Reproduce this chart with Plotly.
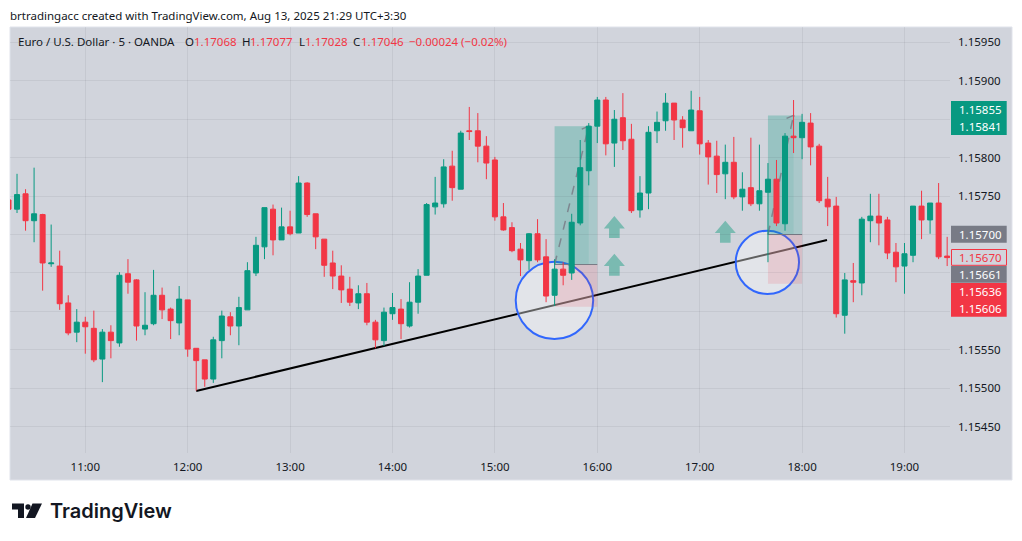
import pandas as pd
import plotly.graph_objects as go

# the page body has an 8px margin, so the figure is 8px smaller than the window
W, H = 1014, 533
OFFSET = 8
LEFT, RIGHT, TOP, BOTTOM = 10, 950, 27, 453
BG = "#D1D4DC"
UP = "#089981"
DOWN = "#F23645"
GREY = "#787B86"
FONT = "Noto Sans"

# candles, 5 min apart from 10:15
open_ = [1.15745, 1.15733, 1.15753, 1.15718, 1.15726, 1.15662, 1.15659, 1.15611, 1.15573, 1.15586,
         1.15578, 1.15538, 1.15573, 1.15559, 1.15649, 1.15641, 1.15577, 1.15584, 1.15621, 1.15603,
         1.15585, 1.15615, 1.15552, 1.15537, 1.15512, 1.15562, 1.15593, 1.15581, 1.15602, 1.15650,
         1.15684, 1.15733, 1.15693, 1.15710, 1.15702, 1.15767, 1.15727, 1.15694, 1.15663, 1.15646,
         1.15629, 1.15611, 1.15623, 1.15586, 1.15562, 1.15597, 1.15603, 1.15581, 1.15612, 1.15647,
         1.15736, 1.15740, 1.15789, 1.15759, 1.15835, 1.15835, 1.15815, 1.15797, 1.15723, 1.15709,
         1.15681, 1.15666, 1.15701, 1.15671, 1.15621, 1.15655, 1.15650, 1.15715, 1.15783, 1.15841,
         1.15875, 1.15819, 1.15852, 1.15824, 1.15732, 1.15754, 1.15835, 1.15848, 1.15871, 1.15849,
         1.15835, 1.15861, 1.15819, 1.15802, 1.15779, 1.15794, 1.15749, 1.15761, 1.15740, 1.15755,
         1.15772, 1.15714, 1.15828, 1.15826, 1.15845, 1.15815, 1.15746, 1.15737, 1.15595, 1.15640,
         1.15637, 1.15718, 1.15724, 1.15719, 1.15677, 1.15659, 1.15673, 1.15737, 1.15719, 1.15741,
         1.15672]
high = [1.15745, 1.15779, 1.15759, 1.15787, 1.15727, 1.15713, 1.15679, 1.15621, 1.15603, 1.15593,
        1.15601, 1.15577, 1.15582, 1.15651, 1.15668, 1.15642, 1.15625, 1.15654, 1.15631, 1.15605,
        1.15633, 1.15615, 1.15552, 1.15537, 1.15567, 1.15601, 1.15599, 1.15619, 1.15664, 1.15697,
        1.15735, 1.15739, 1.15735, 1.15731, 1.15776, 1.15768, 1.15727, 1.15694, 1.15679, 1.15660,
        1.15645, 1.15634, 1.15637, 1.15589, 1.15605, 1.15624, 1.15616, 1.15638, 1.15655, 1.15741,
        1.15775, 1.15798, 1.15809, 1.15835, 1.15866, 1.15858, 1.15828, 1.15801, 1.15741, 1.15716,
        1.15689, 1.15702, 1.15720, 1.15694, 1.15668, 1.15664, 1.15727, 1.15823, 1.15845, 1.15879,
        1.15879, 1.15862, 1.15884, 1.15844, 1.15776, 1.15841, 1.15860, 1.15884, 1.15871, 1.15854,
        1.15887, 1.15879, 1.15823, 1.15822, 1.15817, 1.15827, 1.15781, 1.15826, 1.15817, 1.15793,
        1.15797, 1.15832, 1.15875, 1.15857, 1.15858, 1.15818, 1.15775, 1.15749, 1.15650, 1.15663,
        1.15723, 1.15753, 1.15753, 1.15723, 1.15689, 1.15689, 1.15737, 1.15757, 1.15741, 1.15767,
        1.15697]
low = [1.15733, 1.15728, 1.15705, 1.15690, 1.15627, 1.15658, 1.15602, 1.15569, 1.15560, 1.15545,
       1.15534, 1.15508, 1.15539, 1.15554, 1.15623, 1.15562, 1.15569, 1.15582, 1.15590, 1.15564,
       1.15569, 1.15541, 1.15497, 1.15502, 1.15507, 1.15539, 1.15569, 1.15556, 1.15602, 1.15646,
       1.15668, 1.15673, 1.15693, 1.15699, 1.15702, 1.15723, 1.15681, 1.15645, 1.15629, 1.15611,
       1.15607, 1.15603, 1.15582, 1.15552, 1.15555, 1.15589, 1.15564, 1.15579, 1.15597, 1.15647,
       1.15726, 1.15735, 1.15744, 1.15759, 1.15823, 1.15794, 1.15772, 1.15718, 1.15705, 1.15677,
       1.15646, 1.15654, 1.15664, 1.15612, 1.15607, 1.15634, 1.15641, 1.15712, 1.15764, 1.15819,
       1.15803, 1.15788, 1.15810, 1.15728, 1.15722, 1.15733, 1.15819, 1.15835, 1.15823, 1.15813,
       1.15835, 1.15804, 1.15765, 1.15754, 1.15746, 1.15746, 1.15731, 1.15737, 1.15731, 1.15664,
       1.15711, 1.15705, 1.15806, 1.15798, 1.15790, 1.15741, 1.15711, 1.15592, 1.15571, 1.15612,
       1.15621, 1.15690, 1.15686, 1.15668, 1.15638, 1.15623, 1.15664, 1.15694, 1.15701, 1.15668,
       1.15659]
close = [1.15733, 1.15752, 1.15718, 1.15727, 1.15663, 1.15663, 1.15610, 1.15572, 1.15586, 1.15580,
         1.15537, 1.15573, 1.15562, 1.15647, 1.15638, 1.15581, 1.15582, 1.15621, 1.15602, 1.15588,
         1.15616, 1.15551, 1.15536, 1.15512, 1.15563, 1.15594, 1.15581, 1.15605, 1.15653, 1.15686,
         1.15735, 1.15693, 1.15710, 1.15701, 1.15767, 1.15726, 1.15697, 1.15660, 1.15646, 1.15628,
         1.15612, 1.15623, 1.15586, 1.15563, 1.15599, 1.15605, 1.15584, 1.15612, 1.15646, 1.15739,
         1.15741, 1.15788, 1.15761, 1.15832, 1.15834, 1.15815, 1.15793, 1.15723, 1.15706, 1.15679,
         1.15667, 1.15701, 1.15667, 1.15620, 1.15655, 1.15647, 1.15716, 1.15787, 1.15841, 1.15875,
         1.15818, 1.15850, 1.15822, 1.15731, 1.15754, 1.15833, 1.15846, 1.15871, 1.15849, 1.15839,
         1.15862, 1.15818, 1.15801, 1.15778, 1.15794, 1.15749, 1.15759, 1.15740, 1.15757, 1.15772,
         1.15715, 1.15828, 1.15826, 1.15846, 1.15814, 1.15744, 1.15736, 1.15597, 1.15641, 1.15638,
         1.15720, 1.15724, 1.15715, 1.15676, 1.15658, 1.15675, 1.15737, 1.15719, 1.15741, 1.15671,
         1.15670]
times = pd.date_range("2025-08-13 10:15", periods=len(open_), freq="5min")

price_ticks = [1.1545, 1.155, 1.1555, 1.156, 1.1565, 1.157, 1.1575, 1.158, 1.1585, 1.159, 1.1595]
price_labels = ["1.15450", "1.15500", "1.15550", "", "", "", "1.15750", "1.15800", "", "1.15900", "1.15950"]

# long positions: start, end of the dashed move, right edge, target, entry, stop
pos_start = ["2025-08-13 15:35", "2025-08-13 17:40"]
pos_move_end = ["2025-08-13 15:55", "2025-08-13 17:55"]
pos_end = ["2025-08-13 16:00", "2025-08-13 18:00"]
pos_target = [1.15841, 1.15855]
pos_entry = [1.15661, 1.15700]
pos_stop = [1.15606, 1.15636]

circle_x0 = ["2025-08-13 15:12:12", "2025-08-13 17:21:06"]
circle_x1 = ["2025-08-13 15:57:36", "2025-08-13 17:58:12"]
circle_y0 = [1.155641, 1.156227]
circle_y1 = [1.156647, 1.157050]

trend_x = ["2025-08-13 12:05", "2025-08-13 18:14:36"]
trend_y = [1.154965, 1.156930]

arrow_x = ["2025-08-13 16:10", "2025-08-13 16:10", "2025-08-13 17:15"]
arrow_y = [1.15724, 1.15675, 1.15718]

# price badges on the axis: label, top px, bottom px, fill
badge_text = [["1.15855", "1.15841"], ["1.15700"], ["1.15661"], ["1.15636", "1.15606"]]
badge_top = [101, 225.7, 266, 283]
badge_bottom = [135, 242.7, 282.7, 316.7]
badge_fill = [UP, GREY, GREY, DOWN]

legend_parts = [
    ("Euro / U.S. Dollar · 5 · OANDA", 18, "#131722"),
    ("O", 185, "#131722"), ("1.17068", 194, DOWN),
    ("H", 242, "#131722"), ("1.17077", 250, DOWN),
    ("L", 299, "#131722"), ("1.17028", 305, DOWN),
    ("C", 353, "#131722"), ("1.17046", 361, DOWN),
    ("−0.00024 (−0.02%)", 409, DOWN),
]


# paper coordinates run over the plot area, not the whole page
def px(x):
    return (x - LEFT) / (RIGHT - LEFT)


def py(y):
    return (BOTTOM - y) / (BOTTOM - TOP)


def paper_path(points):
    pts = [f"{px(x):.5f},{py(y):.5f}" for x, y in points]
    return "M" + " L".join(pts) + " Z"


def page_text(fig, text, x, y, color="#131722", size=11.5, family=FONT, xanchor="left", **font_kw):
    fig.add_annotation(text=text, xref="paper", yref="paper", x=px(x), y=py(y), xanchor=xanchor,
                       yanchor="middle", showarrow=False, borderpad=0,
                       font=dict(family=family, size=size, color=color, **font_kw))


fig = go.Figure(
    go.Candlestick(
        x=times,
        open=open_,
        high=high,
        low=low,
        close=close,
        increasing=dict(line=dict(color=UP, width=1), fillcolor=UP),
        decreasing=dict(line=dict(color=DOWN, width=1), fillcolor=DOWN),
        whiskerwidth=0,
        showlegend=False,
        hoverinfo="skip",
    )
)

# chart panel behind everything, including the price and time axes
fig.add_shape(type="rect", xref="paper", yref="paper", x0=px(10), x1=px(1012), y0=py(480), y1=py(27),
              fillcolor=BG, line=dict(color="#E0E3EB", width=1), layer="below")

fig.add_shape(type="line", x0=trend_x[0], x1=trend_x[1], y0=trend_y[0], y1=trend_y[1],
              line=dict(color="#000000", width=2), layer="below")

for i in range(2):
    fig.add_shape(type="circle", x0=circle_x0[i], x1=circle_x1[i], y0=circle_y0[i], y1=circle_y1[i],
                  fillcolor="rgba(255,255,255,0.4)", line=dict(color="#2962FF", width=2), opacity=0.95,
                  layer="below")

for i in range(2):
    fig.add_shape(type="rect", x0=pos_start[i], x1=pos_end[i], y0=pos_entry[i], y1=pos_target[i],
                  fillcolor="rgba(8,153,129,0.2)", line_width=0, layer="below")
    fig.add_shape(type="rect", x0=pos_start[i], x1=pos_move_end[i], y0=pos_entry[i], y1=pos_target[i],
                  fillcolor="rgba(8,153,129,0.1)", line_width=0, layer="below")
    fig.add_shape(type="rect", x0=pos_start[i], x1=pos_end[i], y0=pos_stop[i], y1=pos_entry[i],
                  fillcolor="rgba(242,54,69,0.14)", line_width=0, layer="below")
    fig.add_shape(type="line", x0=pos_start[i], x1=pos_end[i], y0=pos_entry[i], y1=pos_entry[i],
                  line=dict(color=GREY, width=1), layer="below")
    fig.add_shape(type="line", x0=pos_start[i], x1=pos_move_end[i], y0=pos_entry[i], y1=pos_target[i],
                  line=dict(color="rgba(120,123,134,0.85)", width=1.5, dash="dash"), layer="below")
    fig.add_shape(type="path", xsizemode="pixel", ysizemode="pixel",
                  xanchor=pos_move_end[i], yanchor=pos_target[i],
                  path="M-7,-3 L0,0 L3,-6", line=dict(color="rgba(120,123,134,0.85)", width=1.5, dash="dash"),
                  layer="below")

for ax, ay in zip(arrow_x, arrow_y):
    fig.add_shape(type="path", xsizemode="pixel", ysizemode="pixel", xanchor=ax, yanchor=ay,
                  path="M0,0 L10.5,-12.3 L5.3,-12.3 L5.3,-22 L-5.3,-22 L-5.3,-12.3 L-10.5,-12.3 Z",
                  fillcolor="#7ABAB1", line_width=0, layer="below")

# price badges sit over the axis labels
for text, top, bottom, fill in zip(badge_text, badge_top, badge_bottom, badge_fill):
    fig.add_shape(type="rect", xref="paper", yref="paper", x0=px(951), x1=px(1006.7),
                  y0=py(bottom), y1=py(top), fillcolor=fill, line_width=0, layer="above")
    step = (bottom - top) / len(text)
    for j, label in enumerate(text):
        page_text(fig, label, 980, top + step * (j + 0.5), color="#FFFFFF", xanchor="center")

# current price tag is the outlined one
fig.add_shape(type="rect", xref="paper", yref="paper", x0=px(951.5), x1=px(1006.5), y0=py(265.3), y1=py(249.5),
              fillcolor=BG, line=dict(color=DOWN, width=1), layer="above")
page_text(fig, "1.15670", 980, 257.5, color=DOWN, xanchor="center")

page_text(fig, "brtradingacc created with TradingView.com, Aug 13, 2025 21:29 UTC+3:30", 9, 15)

for text, x, color in legend_parts:
    page_text(fig, text, x - 1, 42, color=color)

# TradingView logo and wordmark
logo_t = [(12, 503.5), (24, 503.5), (24, 518), (18, 518), (18, 509.5), (12, 509.5)]
logo_slash = [(32.5, 503.5), (42, 503.5), (35, 518), (26, 518)]
for pts in (logo_t, logo_slash):
    fig.add_shape(type="path", xref="paper", yref="paper", path=paper_path(pts),
                  fillcolor="#131722", line_width=0)
fig.add_shape(type="circle", xref="paper", yref="paper", x0=px(25.3), x1=px(30.7), y0=py(509.7), y1=py(504.3),
              fillcolor="#131722", line_width=0)
page_text(fig, "TradingView", 48.5, 511, size=20, family="Inter", weight=600)

fig.update_layout(
    width=W,
    height=H,
    autosize=False,
    margin=dict(l=LEFT - OFFSET, r=W - (RIGHT - OFFSET), t=TOP - OFFSET, b=H - (BOTTOM - OFFSET)),
    paper_bgcolor="#FFFFFF",
    plot_bgcolor=BG,
    font=dict(family=FONT, size=11.5, color="#131722"),
    showlegend=False,
    boxgap=0.16,
    xaxis=dict(
        range=["2025-08-13 10:15:53", "2025-08-13 19:26:40"],
        rangeslider=dict(visible=False),
        dtick=3600000,
        tick0="2025-08-13 11:00",
        tickformat="%H:%M",
        showgrid=True,
        gridcolor="rgba(42,46,57,0.07)",
        gridwidth=1,
        zeroline=False,
        showline=False,
        ticks="",
        ticklabelstandoff=5,
    ),
    yaxis=dict(
        side="right",
        range=[1.154158, 1.1597],
        tickmode="array",
        tickvals=price_ticks,
        ticktext=price_labels,
        showgrid=True,
        gridcolor="rgba(42,46,57,0.07)",
        gridwidth=1,
        zeroline=False,
        showline=False,
        ticks="",
        ticklabelstandoff=7,
    ),
)

fig.write_html("out.html")
